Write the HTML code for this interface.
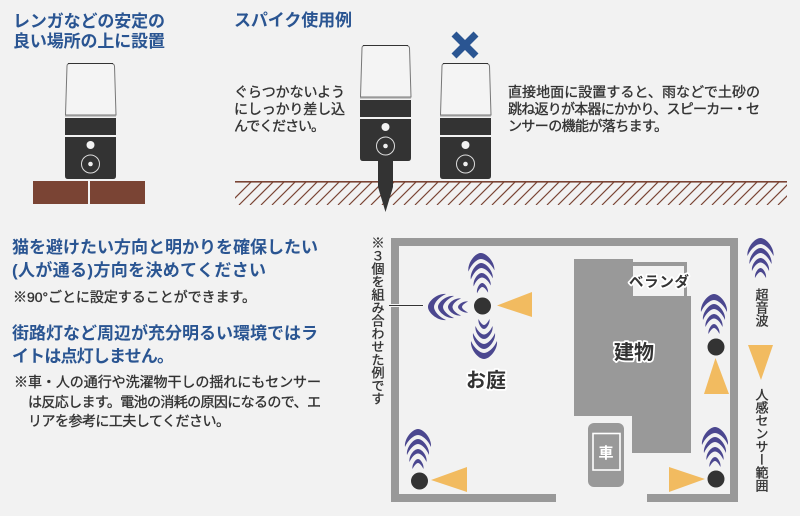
<!DOCTYPE html>
<html lang="ja"><head><meta charset="utf-8"><style>
html,body{margin:0;padding:0;background:#f2f2f2}
svg{display:block}
text{font-family:"Liberation Sans","Noto Sans CJK JP",sans-serif}
.h{font-size:17px;font-weight:700;fill:#2a5592}
.b{font-size:14px;font-weight:400;fill:#333;stroke:#333;stroke-width:.35px}
.v{font-size:13px;font-weight:400;fill:#333;stroke:#333;stroke-width:.35px;writing-mode:vertical-rl;text-orientation:upright}
.o{font-weight:700;fill:#333;paint-order:stroke;stroke:#fff;stroke-width:3.5px;stroke-linejoin:round}
</style></head><body>
<svg width="800" height="516" viewBox="0 0 800 516" xmlns="http://www.w3.org/2000/svg">
<defs>
<g id="dev">
<path d="M65.5 115 L67 66 Q67 63.5 70 63.5 L111 63.5 Q114 63.5 114.5 66 L116 115 Z" fill="#f4f4f4" stroke="#777" stroke-width="1"/>
<path d="M68 63.5 H113" stroke="#333" stroke-width="1"/>
<rect x="65" y="115" width="51" height="1.5" fill="#999"/>
<rect x="65" y="118" width="51" height="17" fill="#333"/>
<path d="M65 137 H116 V176 Q116 179 113 179 H68 Q65 179 65 176 Z" fill="#333"/>
<circle cx="90.5" cy="145" r="4" fill="#f2f2f2"/>
<circle cx="90.5" cy="164" r="9" fill="none" stroke="#ddd" stroke-width="1"/>
<circle cx="90.5" cy="164" r="2.3" fill="#eee"/>
</g>
<g id="w" fill="#4b478f">
<path d="M-13 18 C-14 10 -6 0 0 0 C6 0 14 10 13 18 C10 11 4 6 0 6 C-4 6 -10 11 -13 18Z"/>
<path d="M-11 26 C-12 19 -5 10 0 10 C5 10 12 19 11 26 C8.5 20 3.5 15 0 15 C-3.5 15 -8.5 20 -11 26Z"/>
<path d="M-8.5 33 C-9.5 27 -4 20 0 20 C4 20 9.5 27 8.5 33 C6.5 28 2.7 24.5 0 24.5 C-2.7 24.5 -6.5 28 -8.5 33Z"/>
<path d="M-5.5 40 C-6.2 35.5 -2.5 30 0 30 C2.5 30 6.2 35.5 5.5 40 C4 37 1.7 34 0 34 C-1.7 34 -4 37 -5.5 40Z"/>
</g>
<clipPath id="gc"><rect x="235" y="182" width="552" height="23"/></clipPath>
</defs>
<rect width="800" height="516" fill="#f2f2f2"/>

<!-- top headings -->
<text class="h" x="13" y="27" textLength="152">レンガなどの安定の</text>
<text class="h" x="13" y="47" textLength="152">良い場所の上に設置</text>
<text class="h" x="234" y="26" textLength="118">スパイク使用例</text>

<!-- ground -->
<g clip-path="url(#gc)" stroke="#7a4434" stroke-width="1.2">
<path d="M228 205L252 181M239 205L263 181M250 205L274 181M261 205L285 181M272 205L296 181M283 205L307 181M294 205L318 181M305 205L329 181M316 205L340 181M327 205L351 181M338 205L362 181M349 205L373 181M360 205L384 181M371 205L395 181M382 205L406 181M393 205L417 181M404 205L428 181M415 205L439 181M426 205L450 181M437 205L461 181M448 205L472 181M459 205L483 181M470 205L494 181M481 205L505 181M492 205L516 181M503 205L527 181M514 205L538 181M525 205L549 181M536 205L560 181M547 205L571 181M558 205L582 181M569 205L593 181M580 205L604 181M591 205L615 181M602 205L626 181M613 205L637 181M624 205L648 181M635 205L659 181M646 205L670 181M657 205L681 181M668 205L692 181M679 205L703 181M690 205L714 181M701 205L725 181M712 205L736 181M723 205L747 181M734 205L758 181M745 205L769 181M756 205L780 181M767 205L791 181M778 205L802 181"/>
</g>
<rect x="235" y="181" width="552" height="1.6" fill="#7a4434"/>

<!-- bricks -->
<rect x="33" y="181" width="55" height="23" fill="#7a4434"/>
<rect x="90" y="181" width="55" height="23" fill="#7a4434"/>

<!-- devices -->
<use href="#dev"/>
<polygon points="378,160 393,160 393,187 385.5,212 378,187" fill="#333"/>
<use href="#dev" transform="translate(295,-18)"/>
<use href="#dev" transform="translate(375,0)"/>
<path d="M454 34L476 56M476 34L454 56" stroke="#2a5592" stroke-width="7" fill="none"/>

<text class="b" x="234" y="97" textLength="111">ぐらつかないよう</text>
<text class="b" x="234" y="114" textLength="111">にしっかり差し込</text>
<text class="b" x="234" y="131" textLength="91">んでください。</text>

<text class="b" x="508" y="97" textLength="252">直接地面に設置すると、雨などで土砂の</text>
<text class="b" x="508" y="114" textLength="252">跳ね返りが本器にかかり、スピーカー・セ</text>
<text class="b" x="508" y="131" textLength="160">ンサーの機能が落ちます。</text>

<!-- left block -->
<text class="h" x="12" y="253" textLength="306">猫を避けたい方向と明かりを確保したい</text>
<text class="h" x="12" y="276" textLength="254">(人が通る)方向を決めてください</text>
<text class="b" x="13" y="302" textLength="243">※90°ごとに設定することができます。</text>
<text class="h" x="12" y="339" textLength="306">街路灯など周辺が充分明るい環境ではラ</text>
<text class="h" x="12" y="362" textLength="162">イトは点灯しません。</text>
<text class="b" x="14" y="387" textLength="307">※車・人の通行や洗濯物干しの揺れにもセンサー</text>
<text class="b" x="28" y="407" textLength="293">は反応します。電池の消耗の原因になるので、エ</text>
<text class="b" x="28" y="426" textLength="202">リアを参考に工夫してください。</text>

<!-- floor plan -->
<path d="M391 238H738V502H647V494H730V246H399V494H556V502H391Z" fill="#999"/>
<path d="M574 259H633V262H687V296H691V453H632V416H574Z" fill="#999"/>
<rect x="633" y="266" width="51" height="30" fill="#f2f2f2"/>
<rect x="588" y="423" width="36" height="64" rx="6" fill="#999"/>
<rect x="593" y="433.5" width="27" height="36.5" fill="none" stroke="#fff" stroke-width="1.6"/>
<text x="606" y="458" text-anchor="middle" font-size="15" font-weight="700" style="fill:#fff">車</text>

<text class="o" x="629" y="287" font-size="14.5" textLength="60">ベランダ</text>
<text class="o" x="614" y="359" font-size="20">建物</text>
<text class="o" x="466" y="387" font-size="20">お庭</text>

<!-- annotation line -->
<rect x="389" y="304" width="35" height="3" fill="#f6f6f6"/>
<rect x="389" y="305" width="34" height="1" fill="#333"/>

<!-- triangles -->
<g fill="#f2bb60">
<polygon points="497,305.5 532,292 532,317"/>
<polygon points="715.5,358 704,394 729,394"/>
<polygon points="669,467 669,492 705,479"/>
<polygon points="431,480 467,467 467,492"/>
<polygon points="748,345 773,345 761,380"/>
</g>

<!-- waves -->
<use href="#w" transform="translate(480.5,253) rotate(-3)"/>
<use href="#w" transform="translate(428,307) rotate(-90)"/>
<use href="#w" transform="translate(484,359) rotate(180)"/>
<use href="#w" transform="translate(714,294)"/>
<use href="#w" transform="translate(715,427)"/>
<use href="#w" transform="translate(418,429)"/>
<use href="#w" transform="translate(760.5,238)"/>

<!-- dots -->
<g fill="#333">
<circle cx="482.5" cy="306" r="8.5"/>
<circle cx="716" cy="347" r="8.5"/>
<circle cx="716" cy="479" r="8.5"/>
<circle cx="419.5" cy="481" r="8.5"/>
</g>

<!-- vertical labels -->
<text class="v" x="377" y="236">※３個を組み合わせた例です</text>
<text class="v" x="761" y="288">超音波</text>
<text class="v" x="761" y="388">人感センサー範囲</text>
</svg>
</body></html>
